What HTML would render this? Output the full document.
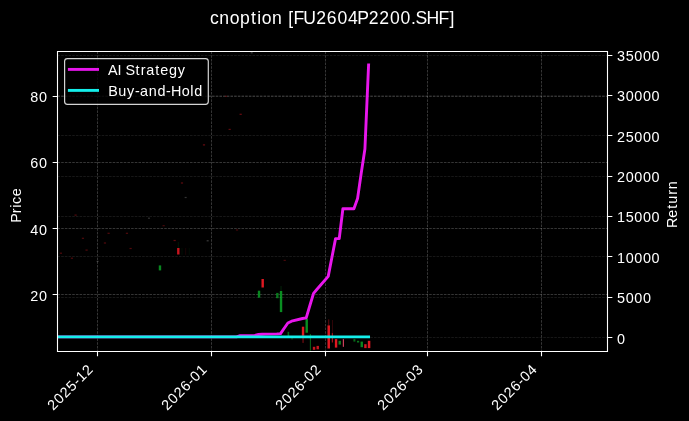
<!DOCTYPE html>
<html><head><meta charset="utf-8"><style>html,body{margin:0;padding:0;background:#000;width:689px;height:421px;overflow:hidden}svg{display:block;will-change:transform}</style></head><body><svg width="689" height="421" viewBox="0 0 689 421"><defs><clipPath id="ax"><rect x="57.5" y="51.5" width="550.0" height="300.0"/></clipPath></defs><rect x="0" y="0" width="689" height="421" fill="#000"/><path d="M97.5 51.5V351.5M211.5 51.5V351.5M325.5 51.5V351.5M427.5 51.5V351.5M541.5 51.5V351.5" stroke="#fff" stroke-width="0.7" stroke-dasharray="2.57 1.11" fill="none" stroke-opacity="0.3"/><path d="M57.5 96.5H607.5M57.5 162.5H607.5M57.5 228.5H607.5M57.5 294.5H607.5" stroke="#fff" stroke-width="0.7" stroke-dasharray="2.57 1.11" fill="none" stroke-opacity="0.3"/><rect x="59.81" y="252.60" width="2.2" height="1.20" fill="#eb1923" fill-opacity="0.35"/><rect x="70.82" y="257.60" width="2.2" height="1.20" fill="#eb1923" fill-opacity="0.35"/><rect x="74.49" y="214.50" width="2.2" height="1.20" fill="#eb1923" fill-opacity="0.35"/><rect x="81.83" y="237.70" width="2.2" height="1.20" fill="#eb1923" fill-opacity="0.35"/><rect x="85.49" y="249.50" width="2.2" height="1.20" fill="#eb1923" fill-opacity="0.35"/><rect x="96.60" y="260.80" width="2.0" height="1.20" fill="#aaaaaa" fill-opacity="0.3"/><rect x="103.84" y="242.40" width="2.2" height="1.20" fill="#eb1923" fill-opacity="0.35"/><rect x="107.51" y="232.70" width="2.2" height="1.20" fill="#eb1923" fill-opacity="0.35"/><rect x="125.85" y="232.70" width="2.2" height="1.20" fill="#eb1923" fill-opacity="0.35"/><rect x="129.52" y="247.90" width="2.2" height="1.20" fill="#eb1923" fill-opacity="0.35"/><rect x="147.96" y="217.60" width="2.0" height="1.20" fill="#aaaaaa" fill-opacity="0.3"/><rect x="158.77" y="265.40" width="2.4" height="5.00" fill="#0a9623" fill-opacity="0.9"/><rect x="162.53" y="225.10" width="2.2" height="1.20" fill="#eb1923" fill-opacity="0.3"/><rect x="173.54" y="239.90" width="2.2" height="1.20" fill="#eb1923" fill-opacity="0.4"/><rect x="177.81" y="242.00" width="1.0" height="6.00" fill="#0a9623" fill-opacity="0.15"/><rect x="177.11" y="248.00" width="2.4" height="6.50" fill="#eb1923" fill-opacity="0.85"/><rect x="181.48" y="248.00" width="1.0" height="6.90" fill="#0a9623" fill-opacity="0.1"/><rect x="180.88" y="182.40" width="2.2" height="1.20" fill="#eb1923" fill-opacity="0.4"/><rect x="185.15" y="248.00" width="1.0" height="6.90" fill="#eb1923" fill-opacity="0.1"/><rect x="184.65" y="196.90" width="2.0" height="1.20" fill="#aaaaaa" fill-opacity="0.3"/><rect x="188.81" y="248.00" width="1.0" height="6.90" fill="#0a9623" fill-opacity="0.08"/><rect x="202.89" y="144.30" width="2.2" height="1.20" fill="#eb1923" fill-opacity="0.45"/><rect x="206.66" y="240.20" width="2.0" height="1.20" fill="#aaaaaa" fill-opacity="0.35"/><rect x="228.57" y="128.80" width="2.2" height="1.20" fill="#eb1923" fill-opacity="0.4"/><rect x="235.91" y="229.40" width="2.2" height="1.20" fill="#eb1923" fill-opacity="0.3"/><rect x="239.58" y="113.70" width="2.2" height="1.20" fill="#eb1923" fill-opacity="0.45"/><rect x="257.82" y="290.70" width="2.4" height="7.00" fill="#0a9623" fill-opacity="0.9"/><rect x="261.49" y="279.00" width="2.4" height="8.50" fill="#eb1923" fill-opacity="0.95"/><rect x="276.16" y="292.90" width="2.4" height="5.30" fill="#0a9623" fill-opacity="0.8"/><rect x="279.83" y="291.00" width="2.4" height="21.10" fill="#0a9623" fill-opacity="0.95"/><rect x="280.63" y="286.00" width="0.8" height="5.00" fill="#0a9623" fill-opacity="0.3"/><rect x="287.57" y="331.80" width="1.6" height="5.20" fill="#0a9623" fill-opacity="0.7"/><rect x="291.54" y="336.50" width="1.0" height="3.00" fill="#0a9623" fill-opacity="0.6"/><rect x="301.84" y="326.70" width="2.4" height="9.00" fill="#eb1923" fill-opacity="0.95"/><rect x="302.54" y="335.70" width="1.0" height="7.20" fill="#eb1923" fill-opacity="0.6"/><rect x="305.51" y="319.00" width="2.4" height="13.70" fill="#0a9623" fill-opacity="0.95"/><rect x="309.88" y="334.00" width="1.0" height="16.60" fill="#0a9623" fill-opacity="0.7"/><rect x="312.85" y="346.80" width="2.4" height="3.00" fill="#eb1923" fill-opacity="0.85"/><rect x="316.52" y="345.90" width="2.4" height="3.40" fill="#eb1923" fill-opacity="0.85"/><rect x="327.47" y="325.40" width="2.5" height="23.10" fill="#eb1923" fill-opacity="0.95"/><rect x="328.22" y="319.40" width="1.0" height="6.00" fill="#eb1923" fill-opacity="0.4"/><rect x="331.79" y="333.10" width="1.2" height="9.40" fill="#eb1923" fill-opacity="0.7"/><rect x="331.99" y="320.00" width="0.8" height="13.00" fill="#eb1923" fill-opacity="0.25"/><rect x="334.86" y="339.10" width="2.4" height="8.50" fill="#eb1923" fill-opacity="0.95"/><rect x="338.53" y="340.80" width="2.4" height="3.80" fill="#0a9623" fill-opacity="0.85"/><rect x="342.80" y="339.10" width="1.2" height="7.70" fill="#ff5070" fill-opacity="0.8"/><rect x="353.40" y="339.10" width="2.0" height="2.50" fill="#0a9623" fill-opacity="0.7"/><rect x="356.97" y="340.80" width="2.2" height="1.70" fill="#0a9623" fill-opacity="0.8"/><rect x="360.54" y="341.60" width="2.4" height="5.60" fill="#0a9623" fill-opacity="0.9"/><rect x="364.21" y="344.20" width="2.4" height="3.90" fill="#eb1923" fill-opacity="0.9"/><rect x="367.83" y="340.80" width="2.5" height="7.30" fill="#eb1923" fill-opacity="0.95"/><rect x="224.90" y="95.70" width="2.2" height="1.20" fill="#eb1923" fill-opacity="0.3"/><rect x="250.68" y="52.20" width="2.0" height="1.20" fill="#bbbbbb" fill-opacity="0.35"/><rect x="283.60" y="259.80" width="2.2" height="1.20" fill="#eb1923" fill-opacity="0.3"/><path d="M57.5 55.5H607.5M57.5 95.5H607.5M57.5 135.5H607.5M57.5 176.5H607.5M57.5 216.5H607.5M57.5 256.5H607.5M57.5 297.5H607.5M57.5 337.5H607.5" stroke="#fff" stroke-width="0.7" stroke-dasharray="2.57 1.11" fill="none" stroke-opacity="0.13"/><g clip-path="url(#ax)"><polyline points="56.75,336.90 236.51,336.90 240.18,335.70 251.18,335.60 254.85,335.50 258.52,334.50 262.19,334.20 265.86,334.10 276.86,333.90 280.53,333.60 284.20,328.20 287.87,323.00 291.54,321.20 302.54,318.50 306.21,317.80 309.88,305.50 313.55,293.40 317.22,289.00 328.22,276.40 331.89,257.50 335.56,238.60 339.23,238.60 342.90,208.80 353.90,208.80 357.57,198.50 361.24,173.00 364.91,149.00 368.58,65.00" fill="none" stroke="rgb(232,22,236)" stroke-width="2.9" stroke-linejoin="round" stroke-linecap="square"/><line x1="57.2454" y1="336.9" x2="368.58" y2="336.9" stroke="rgb(20,238,234)" stroke-width="2.9" stroke-linecap="square"/></g><path d="M57.5 51.5V351.5M607.5 51.5V351.5M56.95 51.5H608.05M56.95 351.5H608.05" stroke="#fff" stroke-width="1.1" fill="none"/><path d="M97.5 351.5v4.86M211.5 351.5v4.86M325.5 351.5v4.86M427.5 351.5v4.86M541.5 351.5v4.86M57.5 96.5h-4.86M57.5 162.5h-4.86M57.5 228.5h-4.86M57.5 294.5h-4.86M607.5 55.5h4.86M607.5 95.5h4.86M607.5 135.5h4.86M607.5 176.5h4.86M607.5 216.5h4.86M607.5 256.5h4.86M607.5 297.5h4.86M607.5 337.5h4.86" stroke="#fff" stroke-width="1.1" fill="none"/><g transform="translate(47.50,102.00)"><text x="-17.26 -8.42" y="0" font-size="14.4" style="font-family:'Liberation Sans', sans-serif;fill:#fff">80</text></g><g transform="translate(47.50,168.00)"><text x="-17.26 -8.42" y="0" font-size="14.4" style="font-family:'Liberation Sans', sans-serif;fill:#fff">60</text></g><g transform="translate(47.50,235.00)"><text x="-17.26 -8.42" y="0" font-size="14.4" style="font-family:'Liberation Sans', sans-serif;fill:#fff">40</text></g><g transform="translate(47.50,301.00)"><text x="-17.26 -8.42" y="0" font-size="14.4" style="font-family:'Liberation Sans', sans-serif;fill:#fff">20</text></g><g transform="translate(616.80,61.00)"><text x="0.31 8.93 17.56 26.18 34.81" y="0" font-size="14.4" style="font-family:'Liberation Sans', sans-serif;fill:#fff">35000</text></g><g transform="translate(616.80,101.00)"><text x="0.31 8.93 17.56 26.18 34.81" y="0" font-size="14.4" style="font-family:'Liberation Sans', sans-serif;fill:#fff">30000</text></g><g transform="translate(616.80,142.00)"><text x="0.31 8.93 17.56 26.18 34.81" y="0" font-size="14.4" style="font-family:'Liberation Sans', sans-serif;fill:#fff">25000</text></g><g transform="translate(616.80,182.00)"><text x="0.31 8.93 17.56 26.18 34.81" y="0" font-size="14.4" style="font-family:'Liberation Sans', sans-serif;fill:#fff">20000</text></g><g transform="translate(616.80,222.00)"><text x="0.31 8.93 17.56 26.18 34.81" y="0" font-size="14.4" style="font-family:'Liberation Sans', sans-serif;fill:#fff">15000</text></g><g transform="translate(616.80,263.00)"><text x="0.31 8.93 17.56 26.18 34.81" y="0" font-size="14.4" style="font-family:'Liberation Sans', sans-serif;fill:#fff">10000</text></g><g transform="translate(616.80,303.00)"><text x="0.31 8.93 17.56 26.18" y="0" font-size="14.4" style="font-family:'Liberation Sans', sans-serif;fill:#fff">5000</text></g><g transform="translate(616.80,343.60)"><text x="0.31" y="0" font-size="14.4" style="font-family:'Liberation Sans', sans-serif;fill:#fff">0</text></g><g transform="translate(94.00,370.25) rotate(-45)"><text x="-57.62 -48.78 -39.95 -31.11 -22.58 -17.26 -8.42" y="0" font-size="14.4" style="font-family:'Liberation Sans', sans-serif;fill:#fff">2025-12</text></g><g transform="translate(208.00,370.25) rotate(-45)"><text x="-57.62 -48.78 -39.95 -31.11 -22.58 -17.26 -8.42" y="0" font-size="14.4" style="font-family:'Liberation Sans', sans-serif;fill:#fff">2026-01</text></g><g transform="translate(322.00,370.25) rotate(-45)"><text x="-57.62 -48.78 -39.95 -31.11 -22.58 -17.26 -8.42" y="0" font-size="14.4" style="font-family:'Liberation Sans', sans-serif;fill:#fff">2026-02</text></g><g transform="translate(424.00,370.25) rotate(-45)"><text x="-57.62 -48.78 -39.95 -31.11 -22.58 -17.26 -8.42" y="0" font-size="14.4" style="font-family:'Liberation Sans', sans-serif;fill:#fff">2026-03</text></g><g transform="translate(538.00,370.25) rotate(-45)"><text x="-57.62 -48.78 -39.95 -31.11 -22.58 -17.26 -8.42" y="0" font-size="14.4" style="font-family:'Liberation Sans', sans-serif;fill:#fff">2026-04</text></g><g transform="translate(20.90,205.00) rotate(-90)"><text x="-17.68 -8.23 -2.65 1.10 8.79" y="0" font-size="14.4" style="font-family:'Liberation Sans', sans-serif;fill:#fff">Price</text></g><g transform="translate(677.00,204.25) rotate(-90)"><text x="-23.85 -13.56 -4.56 0.56 9.42 15.07" y="0" font-size="14.4" style="font-family:'Liberation Sans', sans-serif;fill:#fff">Return</text></g><g transform="translate(209.75,23.55)"><text x="0.18 9.55 19.94 30.33 41.33 47.41 51.88 62.27 78.55 83.66 93.58 106.44 117.05 127.66 138.26 147.62 158.92 169.53 180.13 190.74 201.14 205.66 216.73 228.77 239.75" y="0" font-size="17.6" style="font-family:'Liberation Sans', sans-serif;fill:#fff">cnoption[FU2604P2200.SHF]</text></g><rect x="64.6" y="58.55" width="143.7" height="45.85" rx="2.8" fill="#000" fill-opacity="0.8" stroke="#d4d4d4" stroke-width="1.2"/><line x1="67.9" y1="69.4" x2="99.0" y2="69.4" stroke="rgb(232,22,236)" stroke-width="2.9"/><line x1="67.9" y1="90.4" x2="99.0" y2="90.4" stroke="rgb(20,238,234)" stroke-width="2.9"/><g transform="translate(108.00,74.90)"><text x="-0.05 9.55 17.62 27.55 32.73 38.24 47.22 52.21 60.89 69.82" y="0" font-size="14.4" style="font-family:'Liberation Sans', sans-serif;fill:#fff">AIStrategy</text></g><g transform="translate(108.25,96.00)"><text x="-0.04 9.93 18.84 26.66 31.82 40.47 49.28 57.80 62.73 73.40 81.98 85.91" y="0" font-size="14.4" style="font-family:'Liberation Sans', sans-serif;fill:#fff">Buy-and-Hold</text></g></svg></body></html>
